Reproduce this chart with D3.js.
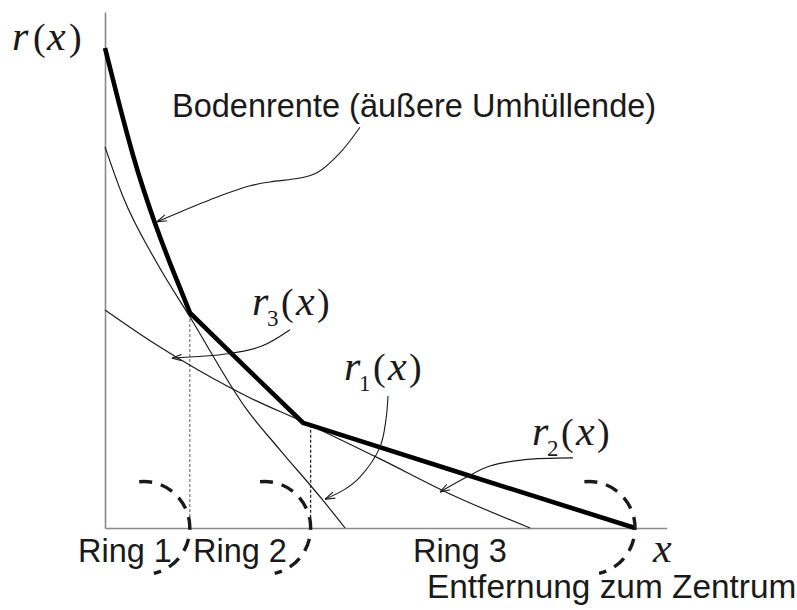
<!DOCTYPE html>
<html><head><meta charset="utf-8">
<script src="https://cdn.jsdelivr.net/npm/d3@7"></script>
<style>body{margin:0;background:#fff}</style>
</head><body>
<svg id="c" width="797" height="610"></svg>
<script>
// ---- data (x: distance to centre, y: land rent; arbitrary units 0-100) ----
const ring1EnvX = [0, 2.64, 5.28, 7.36, 9.43, 12.26, 16.04];
const ring1EnvY = [100, 88.5, 77.7, 70.2, 63.5, 55.2, 44.8];
const ring2EnvX = [16.04, 26.7, 37.4];
const ring2EnvY = [44.8, 33.3, 21.9];
const ring3EnvX = [37.4, 67.0, 100];
const ring3EnvY = [21.9, 11.5, 0];
const r1X = [0, 3.4, 9.8, 16.0, 26.8, 33.0, 41.1, 45.3];
const r1Y = [79.4, 69.0, 55.2, 44.0, 24.6, 16.3, 5.8, 0];
const r3X = [0, 8.5, 17.9, 27.4, 37.4, 51.9, 65.1, 80.2];
const r3Y = [45.4, 39.0, 32.7, 27.1, 22.1, 14.4, 7.1, 0];
const ringBounds = [16.0, 38.8, 100];
const ringTops = [44.6, 21.5, 0];
const ringLabels = ["Ring 1", "Ring 2", "Ring 3"];
const ringLabelX = [-5.1, 16.6, 58.1];
// annotation arrows
const arrowBodenX = [48.1, 44.3, 40.0, 36.8, 31.1, 27.4, 20.8, 9.8];
const arrowBodenY = [83.5, 78.1, 74.0, 72.9, 72.1, 71.3, 68.8, 63.8];
const arrowR3X = [34.9, 29.6, 23.2, 12.6];
const arrowR3Y = [41.3, 37.9, 36.3, 35.4];
const arrowR1X = [53.4, 53.0, 51.9, 48.1, 45.3, 41.5];
const arrowR1Y = [27.5, 22.5, 16.9, 10.6, 8.1, 6.0];
const arrowR2X = [88.3, 78.9, 72.6, 67.9, 63.2];
const arrowR2Y = [14.6, 14.2, 12.9, 10.4, 7.5];
const axisXMax = 106, axisYMax = 107.5;

// ---- layout ----
const svg = d3.select("#c");
const x = d3.scaleLinear().domain([0, 100]).range([105, 635]);
const y = d3.scaleLinear().domain([0, 100]).range([528, 48]);
const ink = "#1a1a1a";
const zip = (a, b) => a.map((v, i) => [v, b[i]]);
const smooth = d3.line().x(d => x(d[0])).y(d => y(d[1])).curve(d3.curveMonotoneX);
const natural = d3.line().x(d => x(d[0])).y(d => y(d[1])).curve(d3.curveNatural);
const straight = d3.line().x(d => x(d[0])).y(d => y(d[1]));
const spline = d3.line().x(d => x(d[0])).y(d => y(d[1])).curve(d3.curveCatmullRom.alpha(0.5));

// axes
const xa = d3.scaleLinear().domain([0, axisXMax]).range([x(0), x(axisXMax)]);
const ya = d3.scaleLinear().domain([0, axisYMax]).range([y(0), y(axisYMax)]);
svg.append("g").attr("transform", `translate(0,${y(0)})`)
  .call(d3.axisBottom(xa).ticks(0).tickSizeOuter(0));
svg.append("g").attr("transform", `translate(${x(0)},0)`)
  .call(d3.axisLeft(ya).ticks(0).tickSizeOuter(0));
svg.selectAll(".domain").attr("stroke", "#8a8a8a").attr("stroke-width", 1.6);

// dashed ring boundaries
svg.append("line").attr("x1", x(ringBounds[0])).attr("x2", x(ringBounds[0]))
  .attr("y1", y(ringTops[0])).attr("y2", y(0))
  .attr("stroke", "#777").attr("stroke-width", 1.2).attr("stroke-dasharray", "3,2");
svg.append("line").attr("x1", x(ringBounds[1])).attr("x2", x(ringBounds[1]))
  .attr("y1", y(ringTops[1])).attr("y2", y(0))
  .attr("stroke", ink).attr("stroke-width", 1.2).attr("stroke-dasharray", "3,2");

// thin rent curves
svg.append("path").attr("d", smooth(zip(r1X, r1Y)))
  .attr("fill", "none").attr("stroke", ink).attr("stroke-width", 1.2);
svg.append("path").attr("d", smooth(zip(r3X, r3Y)))
  .attr("fill", "none").attr("stroke", ink).attr("stroke-width", 1.2);

// envelope (thick)
const envD = natural(zip(ring1EnvX, ring1EnvY))
  + straight(zip(ring2EnvX, ring2EnvY)).replace(/^M/, "L")
  + smooth(zip(ring3EnvX, ring3EnvY)).replace(/^M/, "L");
svg.append("path").attr("d", envD).attr("fill", "none").attr("stroke", "#000")
  .attr("stroke-width", 4.6).attr("stroke-linejoin", "miter");

// dashed ring arcs
const rx = 46, ry = 46.5;
ringBounds.forEach((b) => {
  const cx = x(b) - rx, cy = y(0);
  const t0 = -0.1, t1 = Math.PI - 0.22;
  const sx = cx + rx * Math.sin(t0), sy = cy - ry * Math.cos(t0);
  const ex = cx + rx * Math.sin(t1), ey = cy - ry * Math.cos(t1);
  svg.append("path").attr("d", `M${sx},${sy}A${rx},${ry} 0 0 1 ${ex},${ey}`)
    .attr("fill", "none").attr("stroke", ink).attr("stroke-width", 3.4)
    .attr("stroke-dasharray", "13,9");
});

// arrow marker
svg.append("defs").append("marker").attr("id", "ah")
  .attr("viewBox", "0 0 10 8").attr("refX", 10).attr("refY", 4)
  .attr("markerWidth", 10).attr("markerHeight", 8)
  .attr("markerUnits", "userSpaceOnUse").attr("orient", "auto")
  .append("path").attr("d", "M0,0.8L10,4L0,7.2").attr("fill", "none")
  .attr("stroke", ink).attr("stroke-width", 1.1);
[[arrowBodenX, arrowBodenY], [arrowR3X, arrowR3Y], [arrowR1X, arrowR1Y], [arrowR2X, arrowR2Y]]
  .forEach(([ax, ay]) => {
    svg.append("path").attr("d", spline(zip(ax, ay)))
      .attr("fill", "none").attr("stroke", ink).attr("stroke-width", 1.1)
      .attr("marker-end", "url(#ah)");
  });

// sans labels
const sans = "'Liberation Sans', Arial, sans-serif";
svg.append("text").attr("x", 172).attr("y", 117).attr("font-family", sans)
  .attr("font-size", 32.5).attr("fill", ink).text("Bodenrente (äußere Umhüllende)");
ringLabels.forEach((t, i) => {
  svg.append("text").attr("x", x(ringLabelX[i])).attr("y", 562).attr("font-family", sans)
    .attr("font-size", 32.5).attr("fill", ink).text(t);
});
svg.append("text").attr("x", 427).attr("y", 598).attr("font-family", sans)
  .attr("font-size", 33.4).attr("fill", ink).text("Entfernung zum Zentrum");

// math labels
const serif = "'Liberation Serif', 'Times New Roman', serif";
function mathLabel(px, py, sub) {
  const t = svg.append("text").attr("y", py).attr("font-family", serif)
    .attr("font-size", 38).attr("fill", ink);
  t.append("tspan").attr("x", px).attr("font-style", "italic").attr("font-size", 42).text("r");
  if (sub) {
    t.append("tspan").attr("x", px + 15).attr("dy", 11).attr("font-size", 23).text(sub);
    t.append("tspan").attr("x", px + 29).attr("dy", -11).text("(");
    t.append("tspan").attr("x", px + 44).attr("font-style", "italic").attr("font-size", 42).text("x");
    t.append("tspan").attr("x", px + 65).text(")");
  } else {
    t.append("tspan").attr("x", px + 21).text("(");
    t.append("tspan").attr("x", px + 35).attr("font-style", "italic").attr("font-size", 42).text("x");
    t.append("tspan").attr("x", px + 57).text(")");
  }
}
mathLabel(12, 50, null);
mathLabel(252, 315, "3");
mathLabel(344, 380, "1");
mathLabel(532, 445, "2");
svg.append("text").attr("x", 653).attr("y", 562).attr("font-family", serif)
  .attr("font-style", "italic").attr("font-size", 42).attr("fill", ink).text("x");
</script>
</body></html>
